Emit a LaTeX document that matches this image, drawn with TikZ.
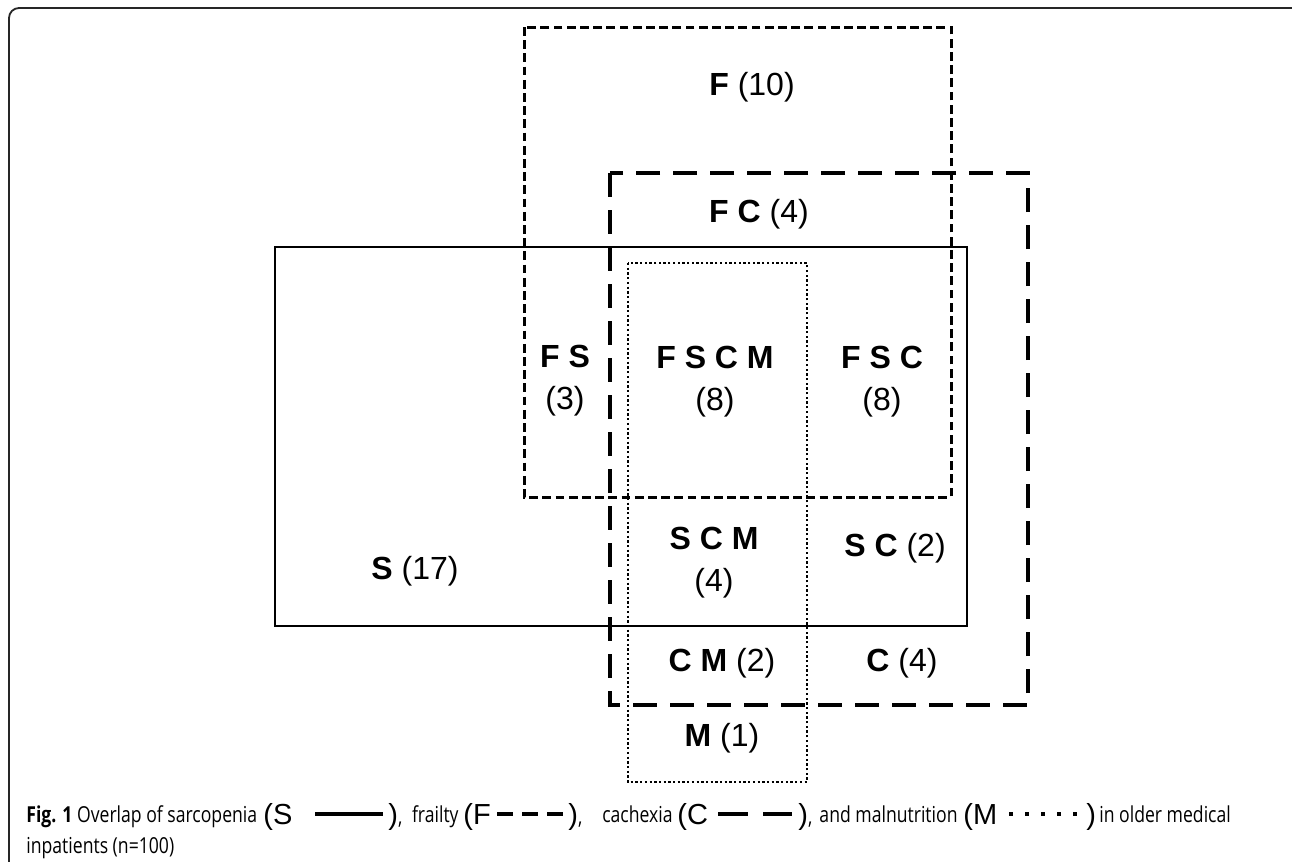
\documentclass[tikz,border=0pt]{standalone}
\usepackage{fontspec}
\setmainfont{Liberation Sans}
\newfontfamily\capfont[FakeStretch=0.8]{Open Sans}
\newcommand\capsz{\capfont\fontsize{11}{13}\selectfont}
\begin{document}
\begin{tikzpicture}[x=0.5pt,y=-0.5pt,
  sline/.style={line width=1.1pt},
  fline/.style={line width=1.5pt, dash pattern=on 4.4pt off 2.2pt},
  cline/.style={line width=1.6pt, dash pattern=on 12pt off 6.5pt},
  mline/.style={line width=1.2pt, dash pattern=on 1.15pt off 1.2pt},
  lab/.style={font=\fontsize{16}{21}\selectfont, align=center, inner sep=0pt},
  captxt/.style={font=\capsz, anchor=base east, inner sep=0pt},
  bigtxt/.style={font=\fontsize{14.5}{17}\selectfont, anchor=base west, inner sep=0pt},
  legline/.style={line width=1.7pt}]
\useasboundingbox (0,0) rectangle (1292,862);
\clip (0,0) rectangle (1292,862);
% frame
\draw[line width=0.9pt, rounded corners=5pt, black!85] (9,8) rectangle (1302,872);
% sets
\draw[sline] (275,247) rectangle (967,626);
\draw[fline] (524,27) rectangle (951,497);
\draw[cline] (610,173) rectangle (1028,705);
\draw[mline] (628,263) rectangle (807,782);
% labels
\node[lab] (lF) at (752,87) {\textbf{F} (10)};
\node[lab] (lFC) at (759,214) {\textbf{F C} (4)};
\node[lab] (lFS) at (565,381) {\textbf{F S}\\(3)};
\node[lab] (lFSCM) at (715,382) {\textbf{F S C M}\\(8)};
\node[lab] (lFSC) at (882,382) {\textbf{F S C}\\(8)};
\node[lab] (lSCM) at (714,563) {\textbf{S C M}\\(4)};
\node[lab] (lSC) at (895,548) {\textbf{S C} (2)};
\node[lab] (lS) at (415,571) {\textbf{S} (17)};
\node[lab] (lCM) at (722,663) {\textbf{C M} (2)};
\node[lab] (lC) at (902,663) {\textbf{C} (4)};
\node[lab] (lM) at (722,738) {\textbf{M} (1)};
% caption
\node[captxt, anchor=base west] (c1) at (26,822) {\textbf{Fig. 1} Overlap of sarcopenia};
\node[bigtxt] (bS) at (263,824) {(S};
\coordinate (sA) at (315,814); \coordinate (sB) at (383,814);
\draw[legline] (sA) -- (sB);
\node[bigtxt] (pS) at (388,824) {)\capsz,};
\node[captxt] (c2) at (459,822) {frailty};
\node[bigtxt] (bF) at (463,824) {(F};
\coordinate (fA) at (497,814); \coordinate (fB) at (564,814);
\draw[legline, dash pattern=on 8pt off 4.5pt] (fA) -- (fB);
\node[bigtxt] (pF) at (568,824) {)\capsz,};
\node[captxt] (c3) at (673,822) {cachexia};
\node[bigtxt] (bC) at (677,824) {(C};
\coordinate (cA) at (718,814); \coordinate (cB) at (792,814);
\draw[legline, dash pattern=on 15pt off 7.5pt] (cA) -- (cB);
\node[bigtxt] (pC) at (798,824) {)\capsz,};
\node[captxt] (c4) at (958,822) {and malnutrition};
\node[bigtxt] (bM) at (963,824) {(M};
\coordinate (mA) at (1009,814); \coordinate (mB) at (1078,814);
\draw[line width=1.8pt, dash pattern=on 1.8pt off 6.2pt] (mA) -- (mB);
\node[bigtxt] (pM) at (1086,824) {)};
\node[captxt, anchor=base west] (c5) at (1099,822) {in older medical};
\node[captxt, anchor=base west] (c6) at (26,853) {inpatients (n=100)};
\end{tikzpicture}
\end{document}
